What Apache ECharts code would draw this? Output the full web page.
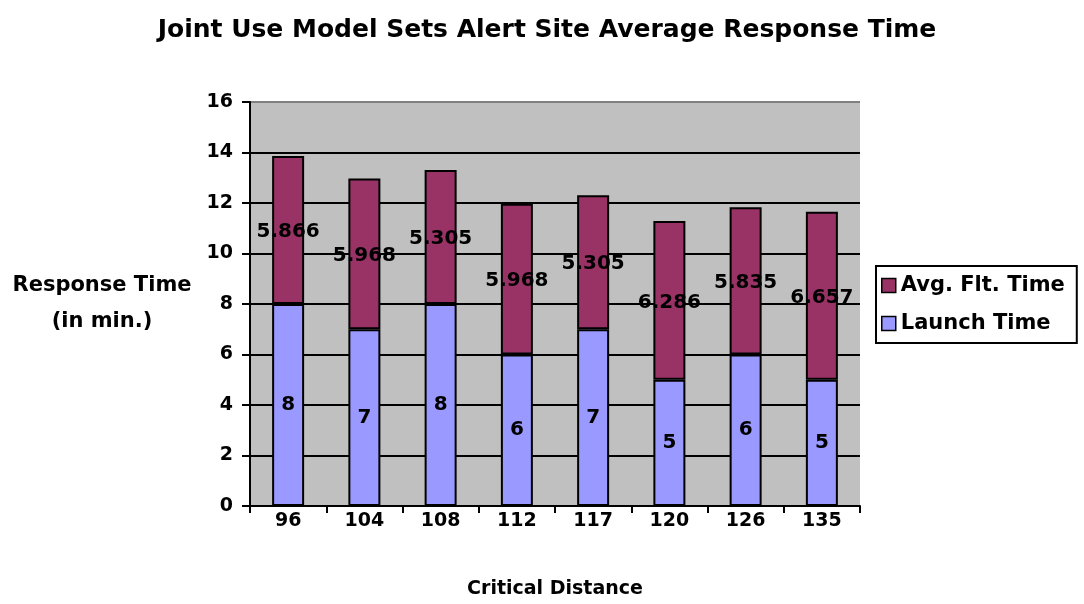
<!DOCTYPE html>
<html>
<head>
<meta charset="utf-8">
<script src="https://cdn.jsdelivr.net/npm/echarts@6/dist/echarts.min.js"></script>
<style>
html, body { margin: 0; padding: 0; background: #fff; }
#chart { width: 1084px; height: 604px; }
</style>
</head>
<body>
<div id="chart"></div>
<script>
var distances = ['96', '104', '108', '112', '117', '120', '126', '135'];
var launchTime = [8, 7, 8, 6, 7, 5, 6, 5];
var fltTime = [5.866, 5.968, 5.305, 5.968, 5.305, 6.286, 5.835, 6.657];

var font = '"DejaVu Sans", sans-serif';

function render_chart () {
    var chartobj = echarts.init(document.getElementById('chart'));
    var option = {
        animation: false,
        title: {
            text: 'Joint Use Model Sets Alert Site Average Response Time',
            left: 542,
            textAlign: 'center',
            top: 13,
            textStyle: { fontFamily: font, fontSize: 25, fontWeight: 'bold', color: '#000' }
        },
        legend: {
            data: ['Avg. Flt. Time', 'Launch Time'],
            orient: 'vertical',
            left: 876,
            top: 266,
            itemWidth: 14,
            itemHeight: 14,
            itemGap: 17,
            padding: [9, 12, 9, 5],
            borderColor: '#000',
            borderWidth: 2,
            icon: 'rect',
            itemStyle: { borderColor: '#000', borderWidth: 1.5 },
            textStyle: { fontFamily: font, fontSize: 21, fontWeight: 'bold', color: '#000' }
        },
        grid: {
            left: 250, right: 224, top: 102, bottom: 96,
            show: true, backgroundColor: '#C0C0C0', borderWidth: 0
        },
        xAxis: {
            type: 'category',
            data: distances,
            name: 'Critical Distance',
            nameLocation: 'middle',
            nameGap: 74,
            nameTextStyle: { fontFamily: font, fontSize: 19, fontWeight: 'bold', color: '#000' },
            axisLine: { lineStyle: { color: '#000', width: 2 } },
            axisTick: { show: true, length: 7, lineStyle: { color: '#000', width: 2 } },
            axisLabel: { fontFamily: font, fontSize: 19, fontWeight: 'bold', color: '#000', margin: 6 }
        },
        yAxis: {
            type: 'value',
            min: 0, max: 16, interval: 2,
            name: 'Response Time\n(in min.)',
            nameLocation: 'middle',
            nameRotate: 0,
            nameGap: 148,
            nameTextStyle: { fontFamily: font, fontSize: 21, fontWeight: 'bold', color: '#000', lineHeight: 36, align: 'center', padding: [10, 0, 0, 0] },
            axisLine: { show: true, lineStyle: { color: '#000', width: 2 } },
            axisTick: { show: true, length: 8, lineStyle: { color: '#000', width: 2 } },
            axisLabel: { fontFamily: font, fontSize: 19, fontWeight: 'bold', color: '#000', margin: 17 },
            splitLine: {
                show: true,
                lineStyle: {
                    color: ['#000', '#000', '#000', '#000', '#000', '#000', '#000', '#000', '#808080'],
                    width: 2
                }
            }
        },
        series: [
            {
                name: 'Launch Time',
                type: 'bar',
                stack: 'total',
                data: launchTime,
                barWidth: 32,
                itemStyle: { color: '#9999FF', borderColor: '#000', borderWidth: 2 },
                label: {
                    show: true, position: 'inside',
                    fontFamily: font, fontSize: 20, fontWeight: 'bold', color: '#000',
                    textBorderWidth: 0
                }
            },
            {
                name: 'Avg. Flt. Time',
                type: 'bar',
                stack: 'total',
                data: fltTime,
                barWidth: 32,
                itemStyle: { color: '#993366', borderColor: '#000', borderWidth: 2 },
                label: {
                    show: true, position: 'inside', offset: [0, 2],
                    fontFamily: font, fontSize: 20, fontWeight: 'bold', color: '#000',
                    textBorderWidth: 0
                }
            }
        ]
    };
    chartobj.setOption(option);
}
render_chart();
</script>
</body>
</html>
